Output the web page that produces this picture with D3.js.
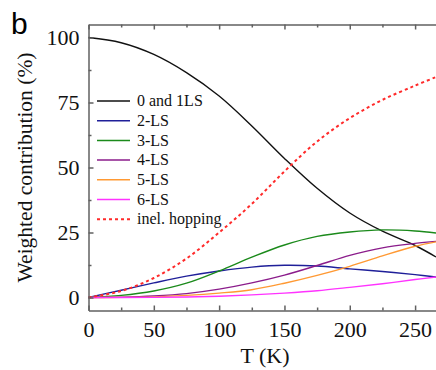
<!DOCTYPE html>
<html>
<head>
<meta charset="utf-8">
<script src="https://cdn.jsdelivr.net/npm/d3@7"></script>
<style>
  body { margin: 0; background: #fff; }
  svg { display: block; }
  .serif { font-family: "Liberation Serif", "Times New Roman", "DejaVu Serif", serif; }
  .axis text { font-family: "Liberation Serif", "Times New Roman", "DejaVu Serif", serif; font-size: 22px; fill: #111; }
  .axis path, .axis line { stroke: #606060; stroke-width: 1.5; }
</style>
</head>
<body>
<svg id="chart" width="436" height="370"></svg>
<script>
const temps = [0, 25, 50, 75, 100, 125, 150, 175, 200, 225, 250, 266];

const seriesNames = ["0 and 1LS", "2-LS", "3-LS", "4-LS", "5-LS", "6-LS", "inel. hopping"];
const seriesColors = ["#111111", "#1f1f99", "#1b8a1b", "#8b1c8b", "#ff9933", "#ff33ff", "#ff2a2a"];

const ls01 = [100, 98, 93.5, 86.5, 77.5, 66, 53.5, 42, 32.5, 25.5, 20, 15.6];
const ls2 = [0, 2.8, 5.6, 8.2, 10.2, 11.7, 12.4, 12.1, 11, 10, 8.8, 7.9];
const ls3 = [0, 0.8, 2.5, 5.5, 10.2, 15.5, 20.2, 23.5, 25.2, 26, 25.6, 24.8];
const ls4 = [0, 0.15, 0.6, 1.5, 3.2, 5.6, 8.6, 12.3, 16.2, 19.1, 20.8, 21.6];
const ls5 = [0, 0.05, 0.25, 0.8, 1.7, 3, 5.5, 8.5, 12, 16, 19.7, 21.4];
const ls6 = [0, 0, 0.05, 0.2, 0.5, 1, 1.7, 2.6, 3.9, 5.3, 6.9, 7.9];
const hopping = [0, 2.5, 7.5, 15, 25, 36, 48.5, 60, 69, 76, 81.5, 84.8];

const seriesValues = [ls01, ls2, ls3, ls4, ls5, ls6, hopping];

const xMajor = [0, 50, 100, 150, 200, 250];
const xMinor = [25, 75, 125, 175, 225];
const yMajor = [0, 25, 50, 75, 100];
const yMinor = [12.5, 37.5, 62.5, 87.5];

const plotLeft = 88.5, plotRight = 436, plotTop = 24.5, plotBottom = 310.5;

const svg = d3.select("#chart");

const x = d3.scaleLinear().domain([0, 266]).range([plotLeft, plotRight]);
const y = d3.scaleLinear().domain([-5, 105]).range([plotBottom, plotTop]);

// curves
const line = d3.line()
  .x((d) => x(d[0]))
  .y((d) => y(d[1]))
  .curve(d3.curveCatmullRom.alpha(0.5));

seriesValues.forEach((vals, i) => {
  svg.append("path")
    .attr("d", line(temps.map((t, j) => [t, vals[j]])))
    .attr("fill", "none")
    .attr("stroke", seriesColors[i])
    .attr("stroke-width", i === 6 ? 2 : 1.4)
    .attr("stroke-dasharray", i === 6 ? "3,3" : null);
});

// axes
const bottomAxis = svg.append("g")
  .attr("class", "axis")
  .attr("transform", `translate(0,${plotBottom})`)
  .call(d3.axisBottom(x).tickValues(xMajor).tickSize(-5).tickPadding(0).tickSizeOuter(0));
bottomAxis.selectAll("text").attr("y", 26.5).attr("dy", null);

svg.append("g")
  .attr("class", "axis")
  .attr("transform", `translate(0,${plotBottom})`)
  .call(d3.axisBottom(x).tickValues(xMinor).tickSize(-3).tickFormat("").tickSizeOuter(0))
  .call((g) => g.select(".domain").remove());

svg.append("g")
  .attr("class", "axis")
  .attr("transform", `translate(0,${plotTop})`)
  .call(d3.axisTop(x).tickValues(xMajor).tickSize(-5).tickFormat("").tickSizeOuter(0));

svg.append("g")
  .attr("class", "axis")
  .attr("transform", `translate(0,${plotTop})`)
  .call(d3.axisTop(x).tickValues(xMinor).tickSize(-3).tickFormat("").tickSizeOuter(0))
  .call((g) => g.select(".domain").remove());

svg.append("g")
  .attr("class", "axis")
  .attr("transform", `translate(${plotLeft},0)`)
  .call(d3.axisLeft(y).tickValues(yMajor).tickSize(-5).tickPadding(9).tickSizeOuter(0));

svg.append("g")
  .attr("class", "axis")
  .attr("transform", `translate(${plotLeft},0)`)
  .call(d3.axisLeft(y).tickValues(yMinor).tickSize(-3).tickFormat("").tickSizeOuter(0))
  .call((g) => g.select(".domain").remove());

// axis titles
svg.append("text")
  .attr("class", "serif")
  .attr("x", 265)
  .attr("y", 363)
  .attr("text-anchor", "middle")
  .attr("font-size", 22)
  .attr("fill", "#111")
  .text("T (K)");

svg.append("text")
  .attr("class", "serif")
  .attr("transform", `translate(32,${(plotTop + plotBottom) / 2}) rotate(-90)`)
  .attr("text-anchor", "middle")
  .attr("font-size", 21.5)
  .attr("fill", "#111")
  .text("Weighted contribution (%)");

// panel letter
svg.append("text")
  .attr("x", 11)
  .attr("y", 34)
  .attr("font-family", "Liberation Sans, Arial, sans-serif")
  .attr("font-size", 30)
  .attr("fill", "#000")
  .text("b");

// legend
const legend = svg.append("g").attr("transform", "translate(97,101)");
seriesNames.forEach((name, i) => {
  const row = legend.append("g").attr("transform", `translate(0,${i * 19.7})`);
  row.append("line")
    .attr("x1", 0).attr("x2", 33)
    .attr("stroke", seriesColors[i])
    .attr("stroke-width", i === 6 ? 2 : 1.5)
    .attr("stroke-dasharray", i === 6 ? "3,3" : null);
  row.append("text")
    .attr("class", "serif")
    .attr("x", 40)
    .attr("dy", "0.33em")
    .attr("font-size", 16)
    .attr("fill", "#111")
    .text(name);
});
</script>
</body>
</html>
